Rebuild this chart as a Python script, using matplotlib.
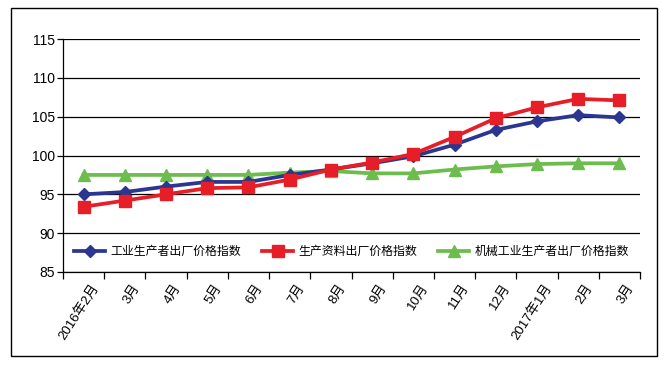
import matplotlib.pyplot as plt
import numpy as np
from matplotlib.patches import Rectangle
from matplotlib.transforms import ScaledTranslation

plt.rcParams['font.family'] = ['Liberation Sans', 'Noto Sans CJK SC']

# dati
months = ['2016年2月', '3月', '4月', '5月', '6月', '7月', '8月', '9月',
          '10月', '11月', '12月', '2017年1月', '2月', '3月']
ppi = [95.0, 95.3, 96.0, 96.6, 96.6, 97.5, 98.2, 99.0, 99.9, 101.4,
       103.3, 104.4, 105.2, 104.9]
ppi_means = [93.4, 94.2, 95.0, 95.8, 95.9, 96.9, 98.2, 99.1, 100.2, 102.4,
             104.8, 106.2, 107.3, 107.1]
ppi_mach = [97.5, 97.5, 97.5, 97.5, 97.5, 97.8, 98.0, 97.7, 97.7, 98.2,
            98.6, 98.9, 99.0, 99.0]
yticks = [85, 90, 95, 100, 105, 110, 115]

fig = plt.figure(figsize=(6.66, 3.65), dpi=100)
ax = fig.add_axes([0.0946, 0.2548, 0.8664, 0.6382])

x = np.arange(len(months))
ax.plot(x, ppi, color='#2B3690', lw=2.7, marker='D', markersize=6.5,
        label='工业生产者出厂价格指数', zorder=3)
ax.plot(x, ppi_means, color='#E61E28', lw=2.7, marker='s', markersize=9,
        label='生产资料出厂价格指数', zorder=4)
ax.plot(x, ppi_mach, color='#6CBD4E', lw=2.7, marker='^', markersize=9,
        label='机械工业生产者出厂价格指数', zorder=2)

# assi
ax.set_ylim(85, 115)
ax.set_yticks(yticks)
ax.set_xlim(-0.5, len(months) - 0.5)
ax.yaxis.grid(True, color='black', lw=0.9)
ax.set_axisbelow(True)
for s in ['top', 'right']:
    ax.spines[s].set_visible(False)
ax.spines['left'].set_linewidth(0.9)
ax.spines['bottom'].set_linewidth(0.9)
ax.tick_params(axis='y', length=4, width=0.9, labelsize=10, pad=2)

ax.set_xticks(x)
ax.set_xticklabels(months, rotation=57, ha='right', va='top',
                   rotation_mode='anchor', fontsize=9.5)
ax.tick_params(axis='x', which='major', length=0, pad=7)
shift = ScaledTranslation(7 / 100, 0, fig.dpi_scale_trans)
for lab in ax.get_xticklabels():
    lab.set_transform(lab.get_transform() + shift)
ax.set_xticks(np.arange(len(months) + 1) - 0.5, minor=True)
ax.tick_params(axis='x', which='minor', length=5, width=0.9)

ax.legend(loc='center', bbox_to_anchor=(0.5, 0.086), ncol=3, frameon=False,
          prop={'size': 8.6, 'weight': 'medium'},
          handlelength=2.6, columnspacing=1.8, handletextpad=0.4)

# cornice esterna
fig.patches.append(Rectangle((11 / 666, 1 - 356 / 365), 646 / 666, 348 / 365,
                             transform=fig.transFigure, fill=False,
                             edgecolor='black', lw=1.0))

fig.savefig('out.png', dpi=100)
